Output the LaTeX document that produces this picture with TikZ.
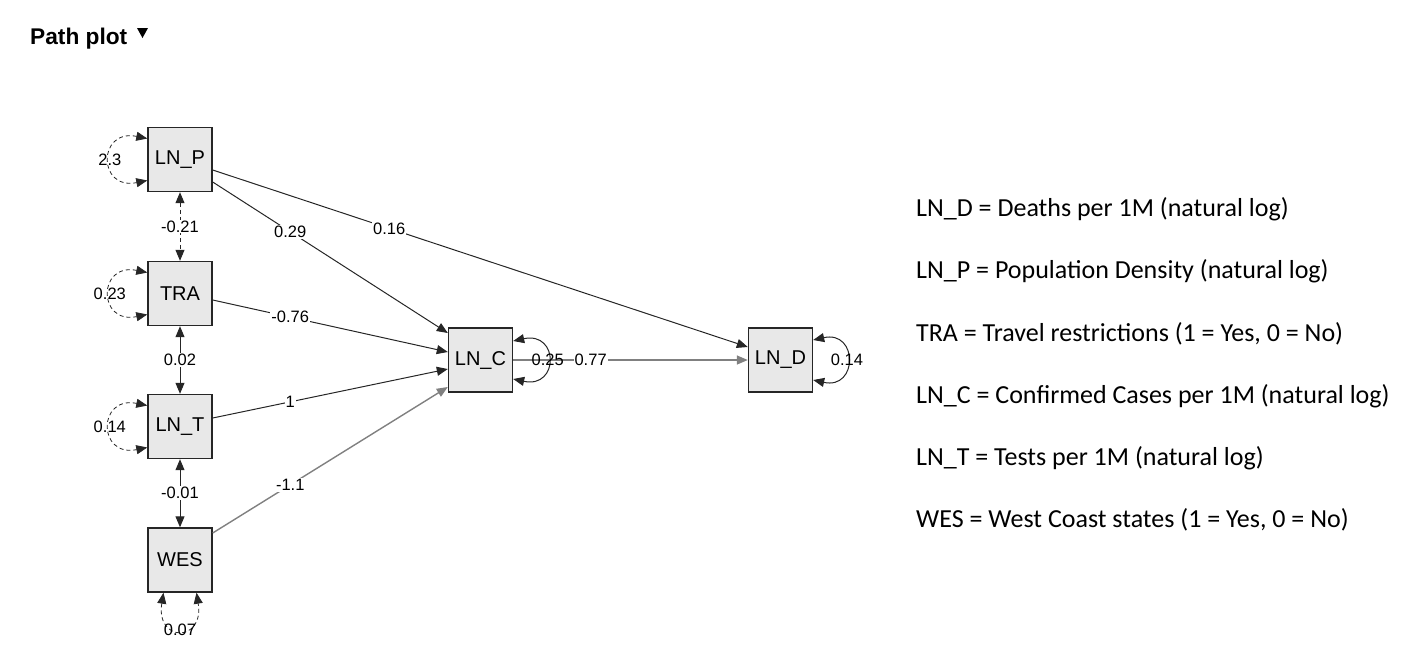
\documentclass[tikz,border=0pt]{standalone}
\usepackage{fontspec}
\setmainfont{Liberation Sans}
\newfontfamily\legfont{Carlito}
\usetikzlibrary{arrows.meta}
\begin{document}
\begin{tikzpicture}[x=1pt,y=-1pt,
 var/.style={draw=black!85, line width=1.4pt, fill=black!9, minimum width=64pt, minimum height=64pt, inner sep=0pt, font=\fontsize{20}{20}\selectfont},
 tip/.tip={Triangle[length=11pt,width=9pt]},
 reg/.style={-tip, line width=1pt, draw=black!85},
 greg/.style={-tip, line width=1.4pt, draw=black!50},
 cov/.style={tip-tip, line width=1pt, draw=black!85},
 elab/.style={fill=white, inner sep=1pt, font=\fontsize{16.5}{16.5}\selectfont},
 llab/.style={inner sep=0pt, font=\fontsize{16.5}{16.5}\selectfont},
 leg/.style={anchor=base west, font=\legfont\fontsize{26}{26}\selectfont, inner sep=0pt},
 dsh/.style={dash pattern=on 4pt off 3pt}
]
\useasboundingbox (0,0) rectangle (1408,667);

% title
\node[anchor=base west, font=\bfseries\fontsize{22.7}{22.7}\selectfont, inner sep=0pt] (title) at (30,44) {Path plot};
\fill (137,28) -- (148,28) -- (142.5,38) -- cycle;

% variables
\node[var] (LNP) at (180,159.5) {LN\_P};
\node[var] (TRA) at (180,293.5) {TRA};
\node[var] (LNT) at (180,426.5) {LN\_T};
\node[var] (WES) at (180,560) {WES};
\node[var] (LNC) at (480.5,360) {LN\_C};
\node[var] (LND) at (780.5,360) {LN\_D};

% regressions
\draw[reg] ([yshift=-22.5pt]LNP.east) -- node[elab,pos=0.33]{0.29} ([yshift=27pt]LNC.west);
\draw[reg] ([yshift=-10.5pt]LNP.east) -- node[elab,pos=0.33]{0.16} ([yshift=13pt]LND.west);
\draw[reg] ([yshift=-6.5pt]TRA.east) -- node[elab,pos=0.33]{-0.76} ([yshift=8pt]LNC.west);
\draw[reg] ([yshift=8.5pt]LNT.east) -- node[elab,pos=0.33]{1} ([yshift=-9pt]LNC.west);
\draw[greg] ([yshift=27pt]WES.east) -- node[elab,pos=0.33]{-1.1} ([yshift=-27pt]LNC.west);
\draw[greg] (LNC.east) -- node[elab,pos=0.33]{0.77} (LND.west);

% covariances
\draw[cov,dsh] (LNP.south) -- node[elab]{-0.21} (TRA.north);
\draw[cov] (TRA.south) -- node[elab]{0.02} (LNT.north);
\draw[cov] (LNT.south) -- node[elab]{-0.01} (WES.north);

% variances
\draw[cov,dsh,line width=0.8pt] ([yshift=21pt]LNP.west) .. controls +(-50,-10) and +(-50,10) .. node[llab]{2.3} ([yshift=-21pt]LNP.west);
\draw[cov,dsh,line width=0.8pt] ([yshift=21pt]TRA.west) .. controls +(-50,-10) and +(-50,10) .. node[llab]{0.23} ([yshift=-21pt]TRA.west);
\draw[cov,dsh,line width=0.8pt] ([yshift=21pt]LNT.west) .. controls +(-50,-10) and +(-50,10) .. node[llab]{0.14} ([yshift=-21pt]LNT.west);
\draw[cov,dsh,line width=0.8pt] ([xshift=-16.5pt]WES.south) .. controls +(-8,50) and +(8,50) .. node[llab]{0.07} ([xshift=16.5pt]WES.south);
\draw[cov] ([yshift=19pt]LNC.east) .. controls +(46,-10) and +(46,10) .. node[llab]{0.25} ([yshift=-19pt]LNC.east);
\draw[cov] ([yshift=20pt]LND.east) .. controls +(45,-10) and +(45,10) .. node[llab]{0.14} ([yshift=-20pt]LND.east);

% legend
\node[leg] (l1) at (916,216.5) {LN\_D = Deaths per 1M (natural log)};
\node[leg] (l2) at (916,278.5) {LN\_P = Population Density (natural log)};
\node[leg] (l3) at (916,341.5) {TRA = Travel restrictions (1 = Yes, 0 = No)};
\node[leg] (l4) at (916,403.5) {LN\_C = Confirmed Cases per 1M (natural log)};
\node[leg] (l5) at (916,465.5) {LN\_T = Tests per 1M (natural log)};
\node[leg] (l6) at (916,527.5) {WES = West Coast states (1 = Yes, 0 = No)};
\end{tikzpicture}
\end{document}
